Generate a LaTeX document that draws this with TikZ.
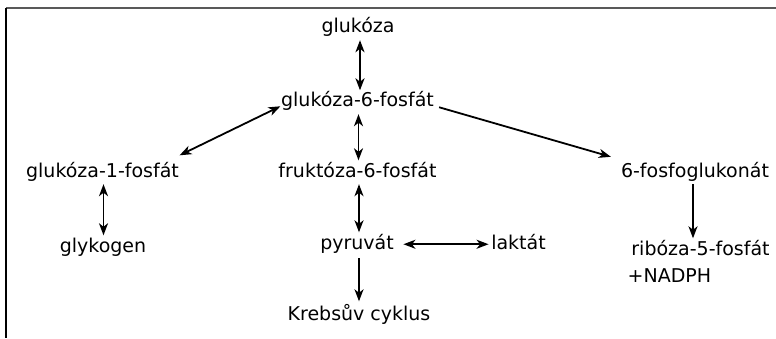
\documentclass[tikz,border=0pt]{standalone}
\usepackage{fontspec}
\setmainfont{DejaVu Sans}
\usetikzlibrary{arrows.meta,calc}
\begin{document}
\begin{tikzpicture}[x=1pt,y=1pt,
  metab/.style={anchor=base,inner sep=2.5pt,text height=14pt,text depth=4.5pt,
    font=\fontsize{19}{22}\selectfont},
  tip/.tip={Stealth[length=12pt,width=9pt,inset=3.5pt]},
  conn/.style={line width=1.8pt,-tip},
  both/.style={line width=1.8pt,tip-tip},
  thick both/.style={line width=2.6pt,tip-tip}]
\useasboundingbox (0,0) rectangle (776,338);
% frame: top and left edges only
\draw[black!65,line width=1.6pt] (6,330) -- (776,330);
\draw[black,line width=1.2pt] (6,330) -- (6,0);

% metabolites (placed on their baselines)
\node[metab] (glc)  at (358,305) {glukóza};
\node[metab] (g6p)  at (357.5,231) {glukóza-6-fosfát};
\node[metab] (g1p)  at (102.5,161) {glukóza-1-fosfát};
\node[metab] (f6p)  at (357.5,161) {fruktóza-6-fosfát};
\node[metab] (pgl)  at (695,161) {6-fosfoglukonát};
\node[metab] (glyk) at (103,86) {glykogen};
\node[metab] (pyr)  at (357,89) {pyruvát};
\node[metab] (lak)  at (518.5,89) {laktát};
\node[metab] (krebs) at (359,18) {Krebsův cyklus};
\node[metab] (rib)  at (700.5,83) {ribóza-5-fosfát};
\node[metab,anchor=base west] (nadph) at (625,56) {+NADPH};

% reactions
\draw[thick both] ([xshift=2pt]glc.south) -- ([xshift=2pt]glc.south |- g6p.north);
\draw[both] ([shift={(2,-4)}]g6p.west) -- ([shift={(-2,5)}]g1p.north east);
\draw[both] ([xshift=1pt]g6p.south) -- ([xshift=1pt]g6p.south |- f6p.north);
\draw[conn] ([shift={(2.5,-5)}]g6p.east) -- ([shift={(-7.5,3.5)}]pgl.north west);
\draw[both] ([xshift=1pt]g1p.south) -- ([xshift=1pt]g1p.south |- glyk.north);
\draw[both] ([xshift=1.5pt]f6p.south) -- ([xshift=1.5pt]f6p.south |- pyr.north);
\draw[both] ([xshift=7pt]pyr.east) -- (lak.west);
\draw[conn] ([xshift=2pt,yshift=-2pt]pyr.south) -- ([xshift=2pt,yshift=2pt]pyr.south |- krebs.north);
\draw[conn] ([xshift=-2pt]pgl.south) -- ([xshift=-2pt]pgl.south |- rib.north);
\end{tikzpicture}
\end{document}
